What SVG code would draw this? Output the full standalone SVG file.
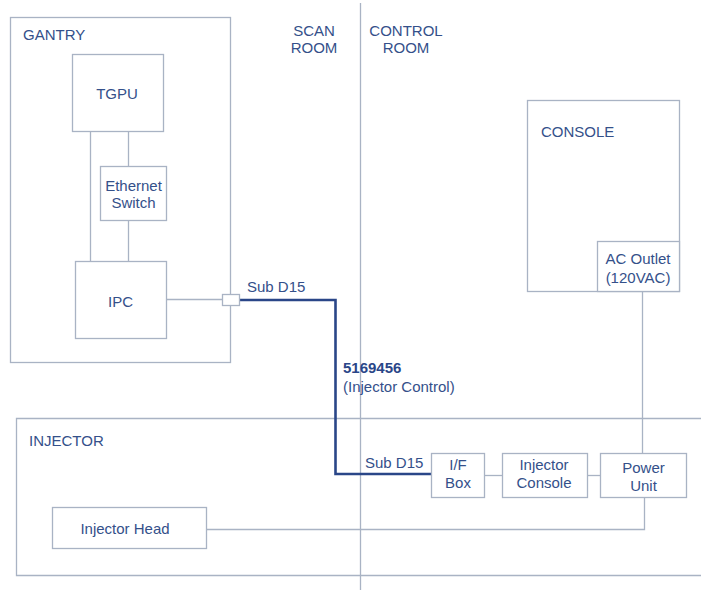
<svg xmlns="http://www.w3.org/2000/svg" width="701" height="590" viewBox="0 0 701 590">
<style>
.box{fill:#ffffff;stroke:#a9b3c4;stroke-width:1.3}
.ln{fill:none;stroke:#a9b3c4;stroke-width:1.3}
.thick{fill:none;stroke:#2a4688;stroke-width:2.6}
text{font-family:"Liberation Sans",Arial,sans-serif;font-size:15px;fill:#34508a}
.c{text-anchor:middle}
.b{font-weight:bold;fill:#2a4688}
</style>
<rect width="701" height="590" fill="#ffffff"/>
<g id="zones">
<line class="ln" x1="360.5" y1="3" x2="360.5" y2="590"/>
<path class="ln" d="M701,418.5 H16.5 V575.5 H701"/>
<text x="314" y="36" class="c">SCAN</text>
<text x="314" y="53" class="c">ROOM</text>
<text x="406" y="36" class="c">CONTROL</text>
<text x="406" y="53" class="c">ROOM</text>
<text x="29" y="446">INJECTOR</text>
</g>
<g id="gantry">
<rect class="box" x="10.5" y="17.5" width="220" height="345"/>
<text x="23" y="40">GANTRY</text>
</g>
<g id="console">
<rect class="box" x="527.5" y="100.5" width="152" height="191"/>
<text x="541" y="137">CONSOLE</text>
</g>
<g id="connectors">
<line class="ln" x1="90.5" y1="131" x2="90.5" y2="261"/>
<line class="ln" x1="128.5" y1="131" x2="128.5" y2="166"/>
<line class="ln" x1="128.5" y1="220" x2="128.5" y2="261"/>
<line class="ln" x1="166" y1="299.5" x2="222" y2="299.5"/>
<line class="ln" x1="642.5" y1="292" x2="642.5" y2="453"/>
<line class="ln" x1="484" y1="475.5" x2="502" y2="475.5"/>
<line class="ln" x1="587" y1="475.5" x2="600" y2="475.5"/>
<path class="ln" d="M644.5,497 V529.5 H206"/>
<path class="thick" d="M239,300 H335.5 V474 H432"/>
<text x="247" y="292">Sub D15</text>
<text x="343" y="373" class="b">5169456</text>
<text x="343" y="392">(Injector Control)</text>
<text x="365" y="468">Sub D15</text>
</g>
<g id="tgpu">
<rect class="box" x="72.5" y="54.5" width="91" height="77"/>
<text x="117" y="99" class="c">TGPU</text>
</g>
<g id="ethernet-switch">
<rect class="box" x="100.5" y="166.5" width="66" height="54"/>
<text x="133.5" y="191" class="c">Ethernet</text>
<text x="133.5" y="208" class="c">Switch</text>
</g>
<g id="ipc">
<rect class="box" x="75.5" y="261.5" width="91" height="77"/>
<text x="120.5" y="307" class="c">IPC</text>
</g>
<g id="connector-subd15">
<rect class="box" x="222.5" y="294.5" width="17" height="11"/>
</g>
<g id="ac-outlet">
<rect class="box" x="597.5" y="241.5" width="82" height="50"/>
<text x="638" y="264" class="c">AC Outlet</text>
<text x="638" y="283" class="c">(120VAC)</text>
</g>
<g id="if-box">
<rect class="box" x="431.5" y="453.5" width="53" height="44"/>
<text x="458" y="470" class="c">I/F</text>
<text x="458" y="488" class="c">Box</text>
</g>
<g id="injector-console">
<rect class="box" x="502.5" y="453.5" width="85" height="44"/>
<text x="544" y="470" class="c">Injector</text>
<text x="544" y="488" class="c">Console</text>
</g>
<g id="power-unit">
<rect class="box" x="600.5" y="453.5" width="86" height="44"/>
<text x="643.5" y="473" class="c">Power</text>
<text x="643.5" y="491" class="c">Unit</text>
</g>
<g id="injector-head">
<rect class="box" x="52.5" y="507.5" width="154" height="41"/>
<text x="125" y="534" class="c">Injector Head</text>
</g>
</svg>
